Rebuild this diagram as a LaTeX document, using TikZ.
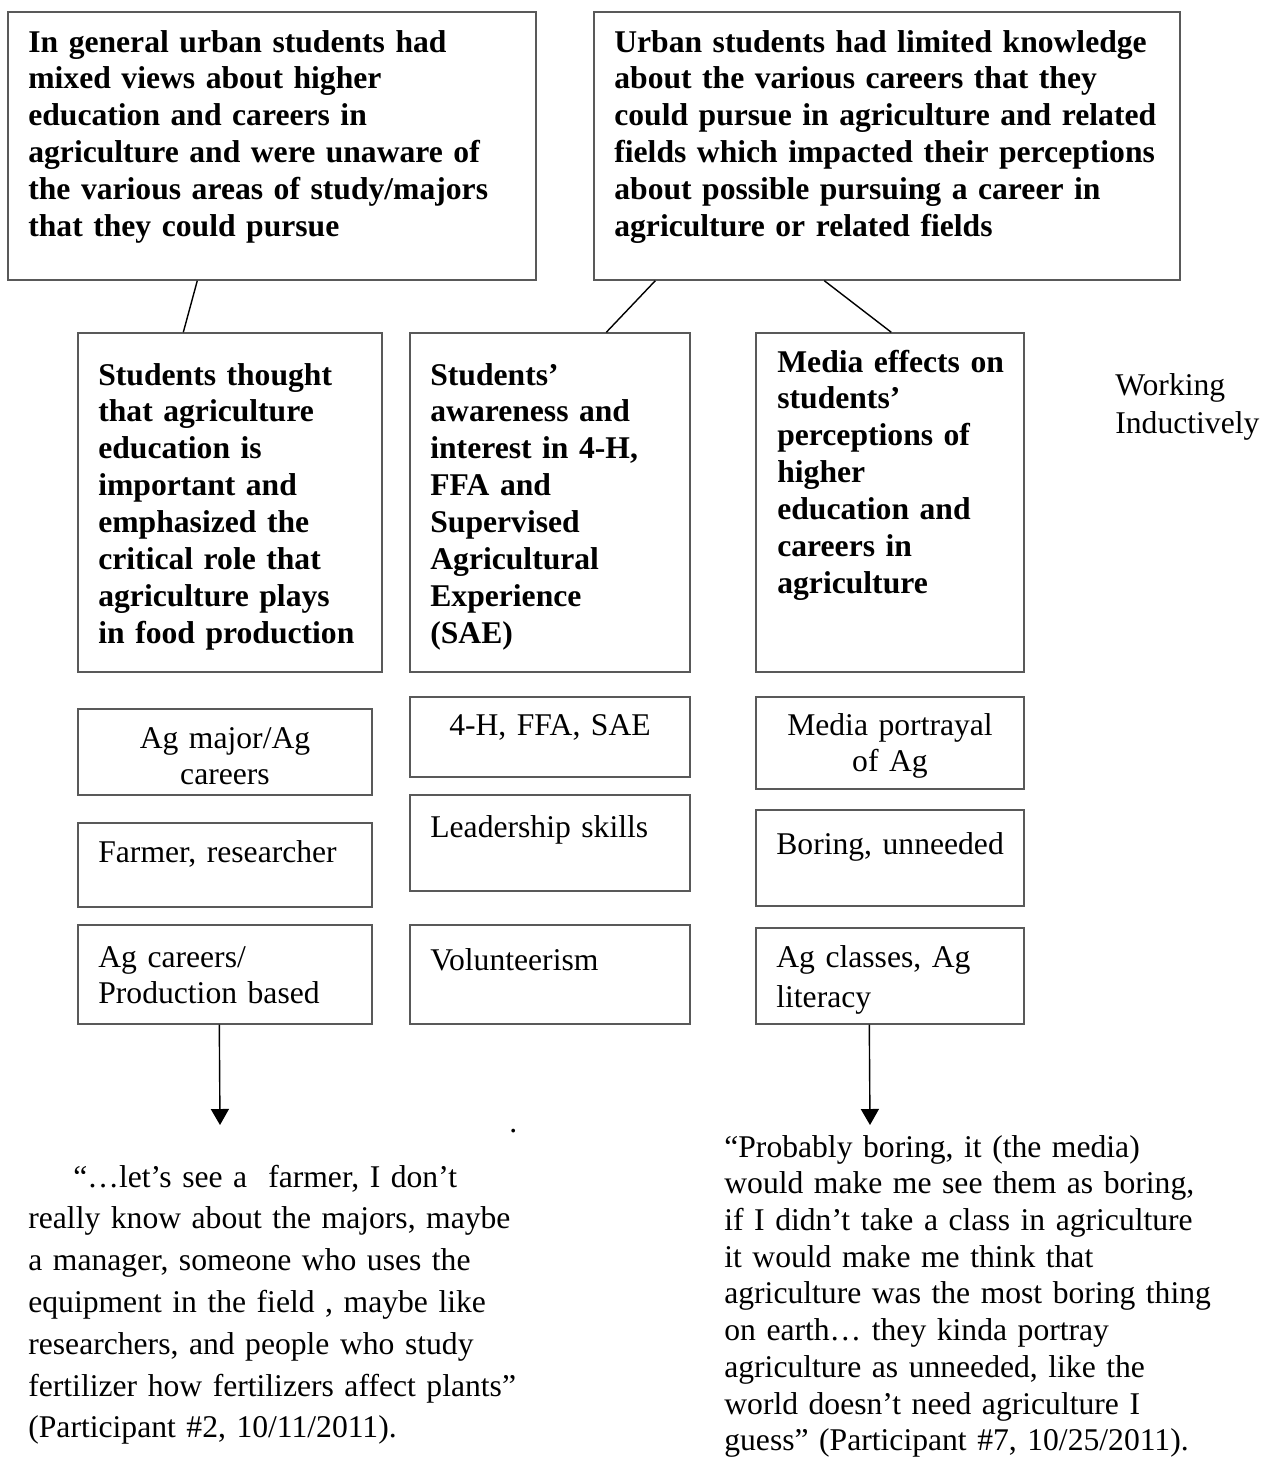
\documentclass[tikz,border=0pt]{standalone}
\usepackage{fontspec}
\setmainfont{Liberation Serif}
\usetikzlibrary{arrows.meta,fit}

\tikzset{
  box/.style={draw=black!65, line width=0.8pt, inner sep=0pt},
  head/.style={font=\fontsize{18}{21}\selectfont\bfseries, anchor=base west,
    inner sep=0pt, align=left, text width=#1},
  item/.style={font=\fontsize{18}{21}\selectfont, anchor=base west,
    inner sep=0pt, align=left, text width=#1},
  itemc/.style={font=\fontsize{18}{21}\selectfont, anchor=base,
    inner sep=0pt, align=center, text width=#1},
  link/.style={line width=0.8pt},
  arr/.style={line width=0.8pt, -{Triangle[width=0.36cm, length=0.32cm]}}
}

\begin{document}
\begin{tikzpicture}[x=0.02cm, y=-0.02cm]
    \useasboundingbox (0,0) rectangle (1261,1461);

    % Themes
    \node[box, fit={(8,12) (536,280)}] (t1) {};
    \node[box, fit={(594,12) (1180,280)}] (t2) {};
    \node[head=10.4cm] at (28,52) {In general urban students had\\
      mixed views about higher\\ education and careers in\\
      agriculture and were unaware of\\ the various areas of study/majors\\
      that they could pursue};
    \node[head=11.2cm] at (614,52) {Urban students had limited knowledge\\
      about the various careers that they\\ could pursue in agriculture and related\\
      fields which impacted their perceptions\\ about possible pursuing a career in\\
      agriculture or related fields};

    % Categories
    \node[box, fit={(78,333) (382,672)}] (a1) {};
    \node[box, fit={(410,333) (690,672)}] (b1) {};
    \node[box, fit={(756,333) (1024,672)}] (c1) {};
    \node[head=5.6cm] at (98,385) {Students thought\\ that agriculture\\
      education is\\ important and\\ emphasized the\\ critical role that\\
      agriculture plays\\ in food production};
    \node[head=5.2cm] at (430,385) {Students’\\ awareness and\\ interest in 4-H,\\
      FFA and\\ Supervised\\ Agricultural\\ Experience\\ (SAE)};
    \node[head=4.8cm] at (777,372) {Media effects on\\ students’\\ perceptions of\\
      higher\\ education and\\ careers in\\ agriculture};

    \node[item=3cm] (wi) at (1115,395) {Working\\[1pt] Inductively};

    \draw[link] ([shift={(190,0)}]t1.south west) -- ([shift={(106,0)}]a1.north west);
    \draw[link] ([shift={(62,0)}]t2.south west) -- ([shift={(197,0)}]b1.north west);
    \draw[link] ([shift={(231,0)}]t2.south west) -- ([shift={(136,0)}]c1.north west);

    % Codes
    \node[box, fit={(78,709) (372,795)}] (a2) {};
    \node[box, fit={(78,823) (372,907)}] (a3) {};
    \node[box, fit={(78,925) (372,1024)}] (a4) {};
    \node[box, fit={(410,697) (690,777)}] (b2) {};
    \node[box, fit={(410,795) (690,891)}] (b3) {};
    \node[box, fit={(410,925) (690,1024)}] (b4) {};
    \node[box, fit={(756,697) (1024,789)}] (c2) {};
    \node[box, fit={(756,810) (1024,906)}] (c3) {};
    \node[box, fit={(756,928) (1024,1024)}] (c4) {};

    \node[itemc=5.4cm] at (225,748) {Ag major/Ag\\ careers};
    \node[item=5.4cm] at (98,862) {Farmer, researcher};
    \node[item=5.4cm] at (98,967) {Ag careers/\\ Production based};
    \node[itemc=5.2cm] at (550,735) {4-H, FFA, SAE};
    \node[item=5.2cm] at (430,837) {Leadership skills};
    \node[item=5.2cm] at (430,970) {Volunteerism};
    \node[itemc=5cm] at (890,735) {Media portrayal\\ of Ag};
    \node[item=4.9cm] at (776,854) {Boring, unneeded};
    \node[item=4.9cm] at (776,967) {Ag classes, Ag\\[2pt] literacy};

    % Quotes
    \coordinate (q1top) at (220,1125);
    \coordinate (q2top) at (870,1125);
    \draw[arr] ([shift={(142,0)}]a4.south west) -- (q1top);
    \draw[arr] ([shift={(114,0)}]c4.south west) -- (q2top);
    \node[item=1cm] (dot) at (509,1132) {.};

    \node[item=10.2cm, font=\fontsize{18}{23.8}\selectfont] (q1) at (28,1187)
      {\hspace*{0.9cm}“…let’s see a\ \ farmer, I don’t\\
      really know about the majors, maybe\\ a manager, someone who uses the\\
      equipment in the field , maybe like\\ researchers, and people who study\\
      fertilizer how fertilizers affect plants”\\ (Participant \#2, 10/11/2011).};
    \node[item=10.2cm, font=\fontsize{18}{20.9}\selectfont] (q2) at (724,1157)
      {“Probably boring, it (the media)\\ would make me see them as boring,\\
      if I didn’t take a class in agriculture\\ it would make me think that\\
      agriculture was the most boring thing\\ on earth… they kinda portray\\
      agriculture as unneeded, like the\\ world doesn’t need agriculture I\\
      guess” (Participant \#7, 10/25/2011).};
\end{tikzpicture}
\end{document}
